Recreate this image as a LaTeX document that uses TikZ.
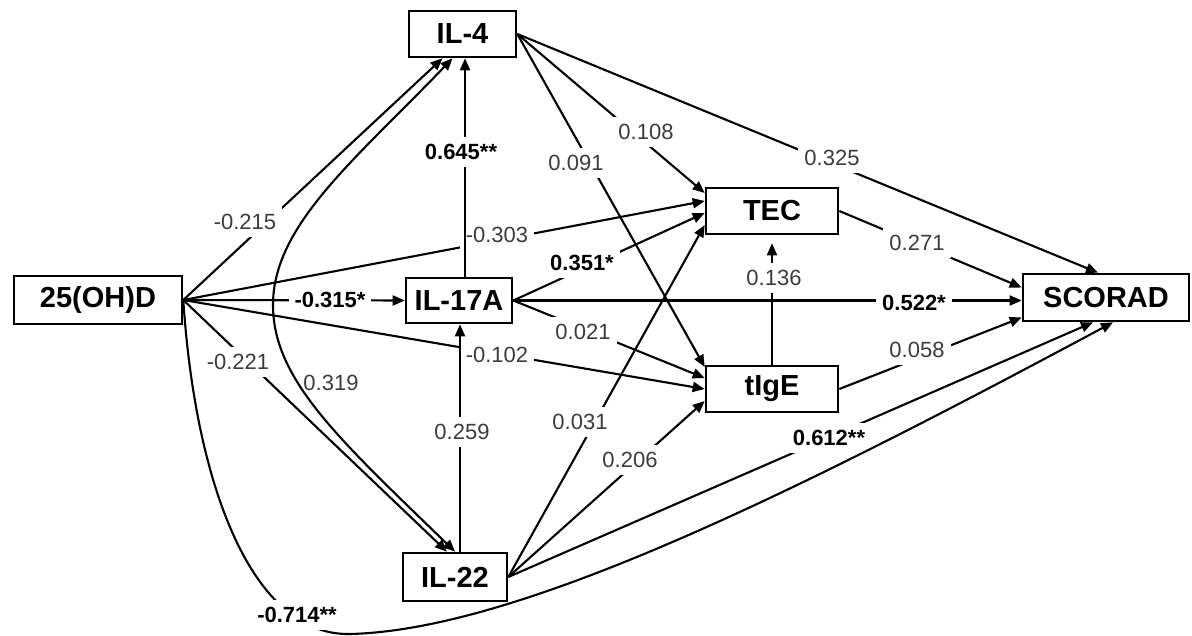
\documentclass[tikz,border=0pt]{standalone}
\usepackage{fontspec}
\setmainfont{Liberation Sans}
\usetikzlibrary{arrows.meta,calc}
\definecolor{lblgray}{RGB}{60,60,60}
\begin{document}
\begin{tikzpicture}[x=1pt,y=-1pt,
  >={Triangle[length=12pt,width=10pt]},
  box/.style={draw, line width=2.6pt, inner sep=0pt, font=\fontsize{29}{32}\selectfont\bfseries},
  edge/.style={line width=2.1pt, ->},
  bedge/.style={line width=2.1pt, <->},
  lbl/.style={fill=white, inner xsep=6pt, inner ysep=7pt, text=lblgray, font=\fontsize{22}{24}\selectfont},
  blbl/.style={lbl, text=black, font=\fontsize{22}{24}\selectfont\bfseries},
  plbl/.style={inner sep=0pt, text=lblgray, font=\fontsize{22}{24}\selectfont}
]
\useasboundingbox (0,0) rectangle (1192,636);

% nodes
\node[box, minimum width=168pt, minimum height=48pt] (OHD) at (98,300) {25(OH)D};
\node[box, minimum width=107pt, minimum height=46pt] (IL4) at (462.5,34) {IL-4};
\node[box, minimum width=106pt, minimum height=45pt] (IL17A) at (459,300.5) {IL-17A};
\node[box, minimum width=104pt, minimum height=48pt] (IL22) at (455,577) {IL-22};
\node[box, minimum width=132pt, minimum height=46pt] (TEC) at (772,211) {TEC};
\node[box, minimum width=132pt, minimum height=46pt] (tIgE) at (772,389) {tIgE};
\node[box, minimum width=166pt, minimum height=47pt] (SCORAD) at (1106,297.5) {SCORAD};

% from 25(OH)D
\draw[edge] (OHD.east) -- ($(IL4.south)+(-20,0)$);
\node[lbl] at (245,222) {-0.215};
\draw[edge] (OHD.east) -- (IL17A.west);
\node[blbl] at (330,300) {-0.315*};
\draw[edge] (OHD.east) -- ($(TEC.west)+(0,-10)$);
\node[lbl] at (497,235) {-0.303};
\draw[edge] (OHD.east) -- (tIgE.west);
\node[lbl] at (497,355) {-0.102};
\draw[edge] (OHD.east) -- ($(IL22.north)+(-8,0)$);
\node[lbl] at (238,362) {-0.221};

% verticals
\coordinate (v1) at ($(IL17A.north)+(6,0)$);
\draw[edge] (v1) -- (v1 |- IL4.south);
\node[blbl] at (461,152) {0.645**};
\coordinate (v2) at ($(IL22.north)+(5,0)$);
\draw[edge] (v2) -- (v2 |- IL17A.south);
\node[lbl] at (462,432) {0.259};

% from IL-4
\draw[edge] (IL4.east) -- ($(TEC.west)+(0,-18)$);
\node[lbl] at (646,132) {0.108};
\draw[edge] (IL4.east) -- ($(tIgE.west)+(0,-22)$);
\node[lbl] at (576,163) {0.091};
\draw[edge] (IL4.east) -- ($(SCORAD.north)+(-8,0)$);
\node[lbl] at (832,158) {0.325};

% from IL-17A
\draw[edge] (IL17A.east) -- ($(TEC.west)+(0,2)$);
\node[blbl] at (582,263) {0.351*};
\draw[edge] (IL17A.east) -- ($(tIgE.west)+(0,-11)$);
\node[lbl] at (583,332) {0.021};
\draw[edge] (IL17A.east) -- (IL17A.east -| SCORAD.west);
\node[blbl] at (914,303) {0.522*};

% from IL-22
\draw[edge] (IL22.east) -- ($(TEC.west)+(0,14)$);
\node[lbl] at (580,422) {0.031};
\draw[edge] (IL22.east) -- ($(tIgE.west)+(0,12)$);
\node[lbl] at (630,460) {0.206};
\draw[edge] (IL22.east) -- ($(SCORAD.south)+(-13,0)$);
\node[blbl] at (829,438) {0.612**};

% TEC, tIgE
\draw[edge, shorten >=8pt] (tIgE.north) -- (TEC.south);
\node[lbl] at (774,278) {0.136};
\draw[edge] (TEC.east) -- ($(SCORAD.west)+(0,-10)$);
\node[lbl] at (917,243) {0.271};
\draw[edge] (tIgE.east) -- ($(SCORAD.west)+(0,20)$);
\node[lbl] at (917,350) {0.058};

% curves
\draw[bedge] (IL22.north) .. controls (340,440) and (273,380) .. (273,305) .. controls (273,225) and (355,160) .. ($(IL4.south)+(-10,0)$);
\node[plbl] at (331,383) {0.319};
\draw[edge] (OHD.east) .. controls (195,480) and (250,636) .. (350,634) .. controls (520,630) and (800,490) .. ($(SCORAD.south)+(7,0)$);
\node[blbl] at (297,615) {-0.714**};
\end{tikzpicture}
\end{document}
